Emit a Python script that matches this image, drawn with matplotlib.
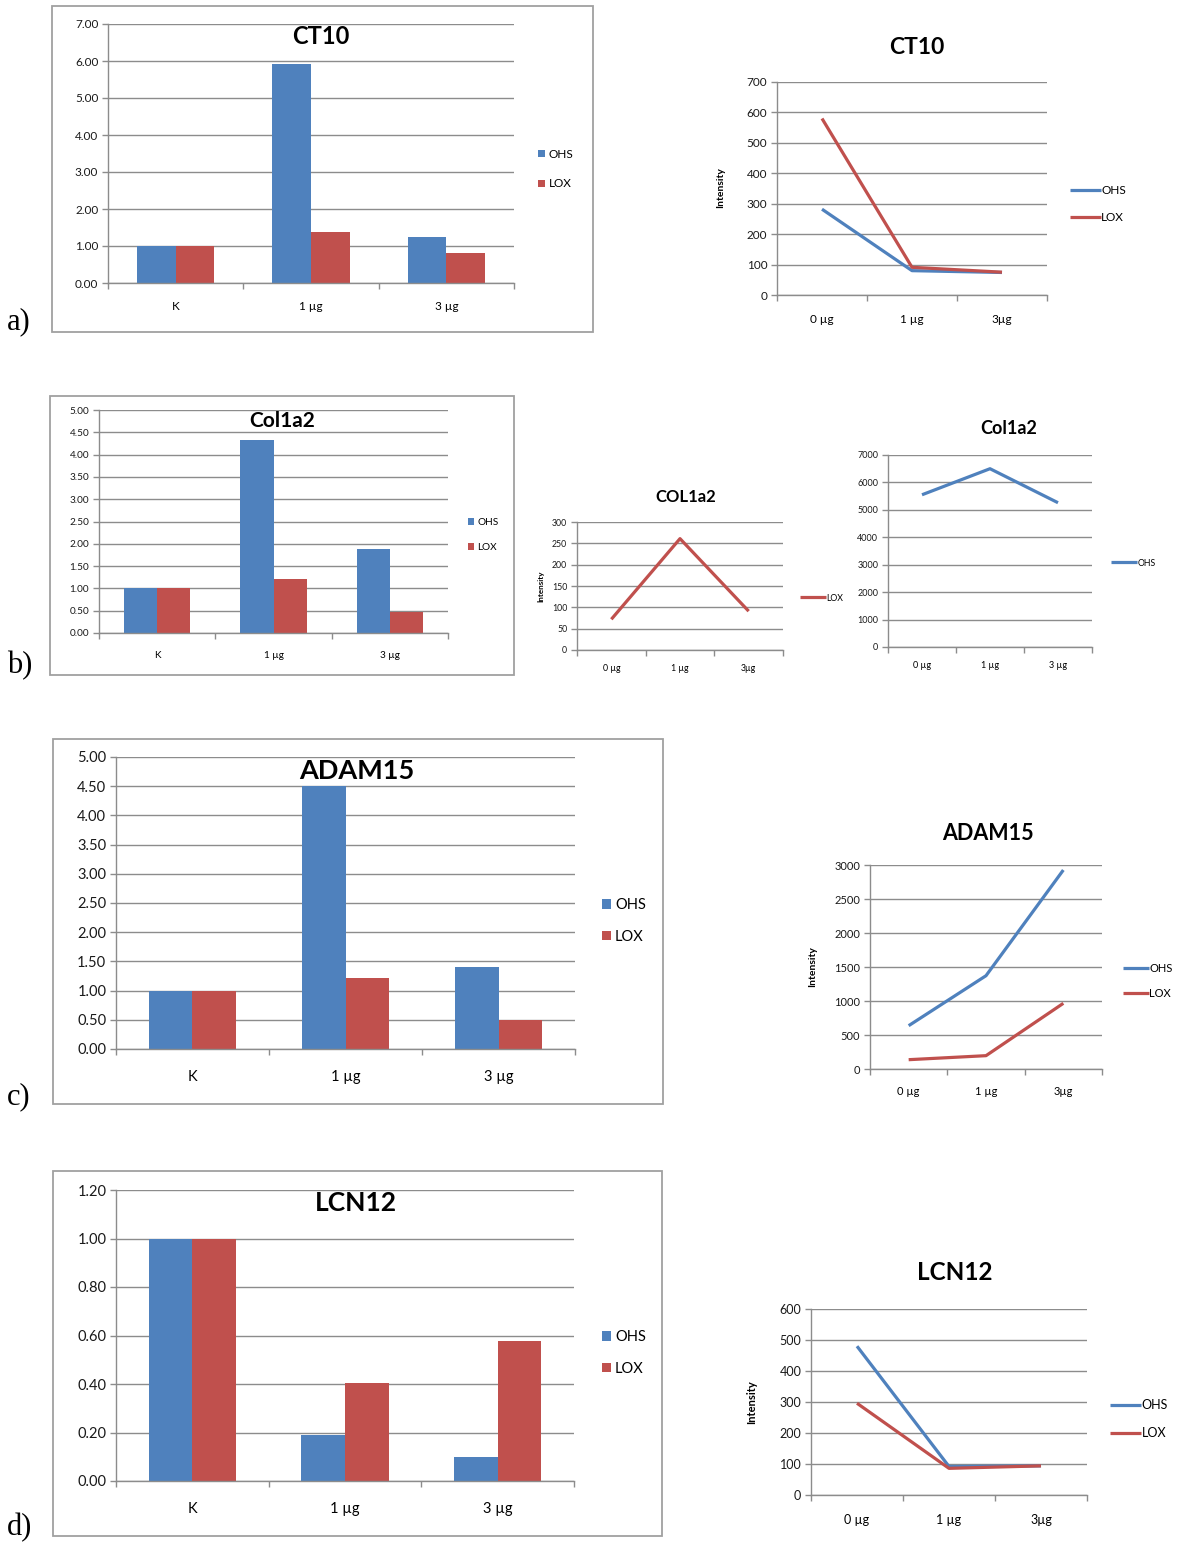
import matplotlib
matplotlib.use("Agg")
import matplotlib.pyplot as plt
from matplotlib.patches import Rectangle

# fold change (bar charts) and raw intensities (line charts) per gene
bar_groups = ["K", "1 µg", "3 µg"]
dose_labels = ["0 µg", "1 µg", "3µg"]
dose_labels_sp = ["0 µg", "1 µg", "3 µg"]

ct10_fold_ohs = [1.00, 5.93, 1.23]
ct10_fold_lox = [1.00, 1.38, 0.80]
ct10_int_ohs = [282, 80, 74]
ct10_int_lox = [580, 91, 75]

col1a2_fold_ohs = [1.00, 4.33, 1.88]
col1a2_fold_lox = [1.00, 1.22, 0.46]
col1a2_int_lox = [72, 261, 91]
col1a2_int_ohs = [5550, 6500, 5260]

adam15_fold_ohs = [1.00, 4.50, 1.40]
adam15_fold_lox = [1.00, 1.21, 0.50]
adam15_int_ohs = [637, 1372, 2926]
adam15_int_lox = [137, 196, 966]

lcn12_fold_ohs = [1.00, 0.19, 0.10]
lcn12_fold_lox = [1.00, 0.405, 0.577]
lcn12_int_ohs = [480, 92, 94]
lcn12_int_lox = [296, 86, 94]

BLUE = "#4F81BD"
RED = "#C0504D"
GRID = "#8C8C8C"
W, H = 1181, 1544

plt.rcParams["font.family"] = ["Lato", "DejaVu Sans"]
fig = plt.figure(figsize=(W / 100, H / 100), dpi=100)


def add_ax(l, t, r, b):
    return fig.add_axes([l / W, 1 - b / H, (r - l) / W, (b - t) / H])


def ptext(x, y, s, **kw):
    fig.text(x / W, 1 - y / H, s, **kw)


def style_axes(ax, ymax, ystep, fmt, fs):
    ax.set_xlim(0, 3)
    ax.set_ylim(0, ymax)
    ticks = [i * ystep for i in range(int(round(ymax / ystep)) + 1)]
    ax.set_yticks(ticks)
    ax.set_yticklabels([fmt.format(t) for t in ticks], fontsize=fs, color="#1a1a1a")
    ax.yaxis.grid(True, color=GRID, linewidth=1.0)
    ax.set_axisbelow(True)
    for s in ("top", "right"):
        ax.spines[s].set_visible(False)
    for s in ("left", "bottom"):
        ax.spines[s].set_color(GRID)
        ax.spines[s].set_linewidth(1.0)
    ax.set_xticks([0, 1, 2, 3])
    ax.set_xticklabels([])
    ax.tick_params(axis="both", which="major", color=GRID, length=4, width=1.0)
    ax.tick_params(axis="y", pad=3)
    ax.set_xticks([0.5, 1.5, 2.5], minor=True)
    ax.tick_params(axis="x", which="minor", length=0)


def bar_panel(box, frame, title, title_xy, ohs, lox, ymax, ystep,
              fs_tick, fs_title, leg_xy, fs_leg, lab_pad, leg_space=1.3):
    l, t, r, b = frame
    fig.patches.append(Rectangle((l / W, 1 - b / H), (r - l) / W, (b - t) / H,
                                 transform=fig.transFigure, fill=False,
                                 edgecolor="#A0A0A0", linewidth=1.3))
    ax = add_ax(*box)
    style_axes(ax, ymax, ystep, "{:.2f}", fs_tick)
    w = 1 / 3.5
    x = [0.5, 1.5, 2.5]
    b1 = ax.bar([c - w / 2 for c in x], ohs, w, color=BLUE, label="OHS")
    b2 = ax.bar([c + w / 2 for c in x], lox, w, color=RED, label="LOX")
    ax.set_xticklabels(bar_groups, minor=True, fontsize=fs_tick)
    ax.tick_params(axis="x", which="minor", pad=lab_pad)
    ptext(*title_xy, title, fontsize=fs_title, fontweight="bold",
          ha="center", va="center")
    ax.legend([b1, b2], ["OHS", "LOX"], loc="center left",
              bbox_to_anchor=(leg_xy[0] / W, 1 - leg_xy[1] / H),
              bbox_transform=fig.transFigure, frameon=False, fontsize=fs_leg,
              handlelength=0.6, handleheight=0.6, handletextpad=0.3,
              labelspacing=leg_space, borderpad=0, borderaxespad=0)
    return ax


def line_panel(box, title, title_xy, series, ymax, ystep, fs_tick, fs_title,
               leg_xy, fs_leg, labels, ylabel_xy=None, fs_ylab=8, lab_pad=10,
               leg_len=2.4, leg_space=1.0):
    ax = add_ax(*box)
    style_axes(ax, ymax, ystep, "{:d}", fs_tick)
    x = [0.5, 1.5, 2.5]
    handles = []
    for vals, color, name in series:
        ln, = ax.plot(x, vals, color=color, linewidth=2.3, label=name,
                      solid_capstyle="butt")
        handles.append(ln)
    ax.set_xticklabels(labels, minor=True, fontsize=fs_tick)
    ax.tick_params(axis="x", which="minor", pad=lab_pad)
    ptext(*title_xy, title, fontsize=fs_title, fontweight="bold",
          ha="center", va="center")
    if ylabel_xy is not None:
        ptext(*ylabel_xy, "Intensity", fontsize=fs_ylab, fontweight="bold",
              rotation=90, ha="center", va="center")
    ax.legend(handles, [h.get_label() for h in handles], loc="center left",
              bbox_to_anchor=(leg_xy[0] / W, 1 - leg_xy[1] / H),
              bbox_transform=fig.transFigure, frameon=False, fontsize=fs_leg,
              handlelength=leg_len, handletextpad=0.05,
              labelspacing=leg_space, borderpad=0, borderaxespad=0)
    return ax


# a) CT10
bar_panel((108, 24, 514, 283), (52, 6, 593, 332), "CT10", (321, 36),
          ct10_fold_ohs, ct10_fold_lox, 7.0, 1.0, 8.5, 17, (538, 169), 8.5, 13,
          leg_space=1.6)
line_panel((777, 82, 1047, 295), "CT10", (917, 48),
           [(ct10_int_ohs, BLUE, "OHS"), (ct10_int_lox, RED, "LOX")],
           700, 100, 8.5, 16.5, (1070, 204), 8.5, dose_labels,
           ylabel_xy=(721, 188), fs_ylab=7.5, lab_pad=14, leg_len=2.6,
           leg_space=1.4)

# b) Col1a2
bar_panel((99, 410, 448, 633), (50, 396, 514, 675), "Col1a2", (282, 421),
          col1a2_fold_ohs, col1a2_fold_lox, 5.0, 0.5, 7.2, 15, (468, 535), 7.2, 13,
          leg_space=1.6)
line_panel((577, 522, 783, 650), "COL1a2", (686, 497),
           [(col1a2_int_lox, RED, "LOX")],
           300, 50, 6.3, 12, (800, 598), 6.3, dose_labels,
           ylabel_xy=(541, 586), fs_ylab=5.8, lab_pad=10, leg_len=3.0)
line_panel((888, 455, 1092, 647), "Col1a2", (1009, 428),
           [(col1a2_int_ohs, BLUE, "OHS")],
           7000, 1000, 6.5, 13, (1111, 563), 6.3, dose_labels_sp,
           lab_pad=10, leg_len=3.0)

# c) ADAM15
bar_panel((116, 757, 575, 1049), (53, 739, 663, 1104), "ADAM15", (357, 771),
          adam15_fold_ohs, adam15_fold_lox, 5.0, 0.5, 10.5, 19.5, (602, 921), 10.5, 15,
          leg_space=1.2)
line_panel((870, 865, 1102, 1069), "ADAM15", (988, 833),
           [(adam15_int_ohs, BLUE, "OHS"), (adam15_int_lox, RED, "LOX")],
           3000, 500, 8, 15.5, (1123, 981), 8, dose_labels,
           ylabel_xy=(813, 967), fs_ylab=7.5, lab_pad=12, leg_len=2.3,
           leg_space=1.3)

# d) LCN12
bar_panel((116, 1190, 574, 1481), (53, 1171, 662, 1536), "LCN12", (356, 1203),
          lcn12_fold_ohs, lcn12_fold_lox, 1.2, 0.2, 10.5, 19, (602, 1353), 10.5, 15,
          leg_space=1.2)
line_panel((811, 1309, 1087, 1495), "LCN12", (955, 1273),
           [(lcn12_int_ohs, BLUE, "OHS"), (lcn12_int_lox, RED, "LOX")],
           600, 100, 9, 17.5, (1110, 1419), 9, dose_labels,
           ylabel_xy=(752, 1402), fs_ylab=8, lab_pad=14, leg_len=2.5,
           leg_space=1.3)

# panel letters
for letter, y in [("a)", 322), ("b)", 666), ("c)", 1097), ("d)", 1528)]:
    ptext(7, y, letter, fontsize=22, family="Liberation Serif",
          ha="left", va="center")

fig.savefig("out.png", dpi=100, facecolor="white")
